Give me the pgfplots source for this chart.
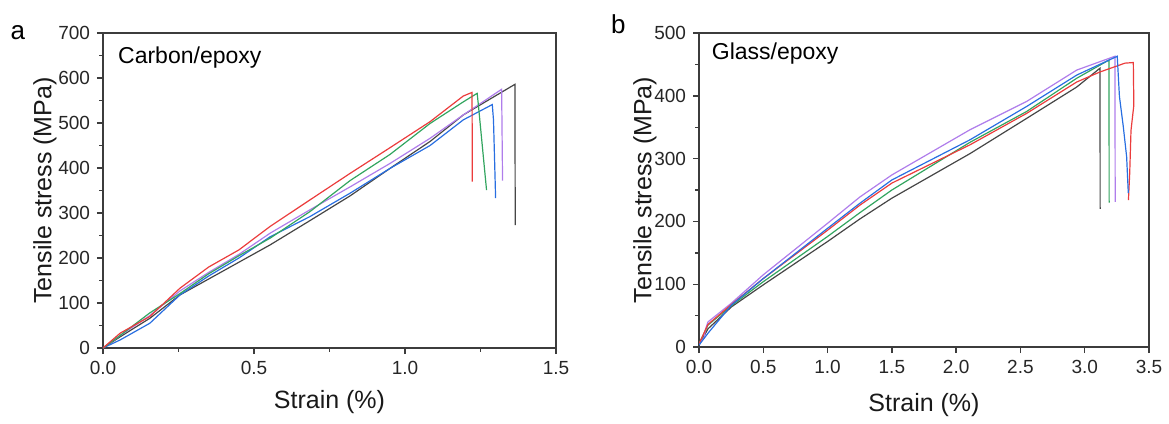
\documentclass[border=0pt]{standalone}
\usepackage{fontspec}
\setmainfont{Liberation Sans}
\usepackage{pgfplots}
\pgfplotsset{compat=1.18}
\definecolor{cred}{RGB}{235,60,60}
\definecolor{cgreen}{RGB}{50,165,95}
\definecolor{cblue}{RGB}{40,110,225}
\definecolor{cpurple}{RGB}{175,125,235}
\definecolor{cblack}{RGB}{70,70,70}
\definecolor{axc}{RGB}{60,60,60}
\pgfplotsset{mystyle/.style={
  scale only axis, enlargelimits=false, clip mode=individual,
  axis line style={axc, line width=0.8bp},
  tick style={axc, line width=0.7bp},
  tick align=outside, xtick pos=bottom, ytick pos=left,
  major tick length=3bp, minor tick length=1.8bp,
  ticklabel style={font=\fontsize{9.5bp}{11bp}\selectfont, text=black!85},
  label style={font=\fontsize{12.5bp}{14bp}\selectfont, text=black!90},
  /pgf/number format/assume math mode=true,
  xticklabel style={/pgf/number format/.cd, fixed, fixed zerofill, precision=1},
  yticklabel style={/pgf/number format/.cd, fixed, precision=0},
  every axis plot/.append style={line width=0.6bp},
  xlabel={Strain (\%)}, ylabel={Tensile stress (MPa)},
}}
\begin{document}
\begin{tikzpicture}
\path (-51.5bp,-35.5bp) rectangle (533bp,174bp);
% ---------- a: Carbon/epoxy ----------
\begin{axis}[mystyle, at={(0,0)}, anchor=south west,
  width=226.5bp, height=157.5bp,
  xmin=0, xmax=1.5, ymin=0, ymax=700,
  xtick={0,0.5,1,1.5}, minor x tick num=1,
  ytick={0,100,...,700}, minor y tick num=1,
  xlabel style={at={(axis description cs:0.5,-0.171)}, anchor=center},
  ylabel style={at={(axis description cs:-0.128,0.5)}, anchor=center},
]
\addplot[cblack] coordinates {(0,0) (0.057,25) (0.155,66) (0.255,118) (0.4,172) (0.553,229) (0.685,283) (0.818,338) (0.950,399) (1.083,459) (1.193,518) (1.364,586) (1.365,273)};
\addplot[cpurple] coordinates {(0,0) (0.057,28) (0.155,72) (0.255,127) (0.35,168) (0.45,208) (0.553,255) (0.685,307) (0.818,358) (0.950,410) (1.083,466) (1.193,518) (1.320,575) (1.323,372)};
\addplot[cblue] coordinates {(0,0) (0.057,18) (0.155,55) (0.255,118) (0.35,160) (0.45,200) (0.553,247) (0.685,292) (0.818,344) (0.950,399) (1.083,450) (1.193,507) (1.289,541) (1.293,507) (1.298,384) (1.300,333)};
\addplot[cgreen] coordinates {(0,0) (0.057,28) (0.155,78) (0.255,121) (0.35,165) (0.45,205) (0.553,244) (0.685,303) (0.818,372) (0.950,430) (1.083,499) (1.193,547) (1.239,566) (1.243,540) (1.270,351)};
\addplot[cred] coordinates {(0,0) (0.057,33) (0.155,70) (0.255,133) (0.35,180) (0.45,218) (0.553,270) (0.685,329) (0.818,388) (0.950,445) (1.083,503) (1.193,560) (1.222,568) (1.223,370)};
\node[anchor=base west, font=\fontsize{11.5bp}{13bp}\selectfont] at (axis description cs:0.018,0.902) {Carbon/epoxy};
\node[anchor=base, font=\fontsize{13bp}{15bp}\selectfont] at (axis description cs:-0.188,0.981) {a};
\end{axis}
% ---------- b: Glass/epoxy ----------
\begin{axis}[mystyle, at={(298bp,0.5bp)}, anchor=south west,
  width=225bp, height=157bp,
  xmin=0, xmax=3.5, ymin=0, ymax=500,
  xtick={0,0.5,...,3.5},
  ytick={0,100,...,500}, minor y tick num=1,
  xlabel style={at={(axis description cs:0.5,-0.185)}, anchor=center},
  ylabel style={at={(axis description cs:-0.12,0.5)}, anchor=center},
]
\addplot[cblack] coordinates {(0,3) (0.07,29) (0.253,64) (0.5,99) (1.0,168) (1.252,204) (1.5,237) (2.108,308) (2.548,364) (2.938,414) (3.119,444) (3.120,220)};
\addplot[cgreen] coordinates {(0,5) (0.07,35) (0.253,66) (0.5,104) (1.0,176) (1.252,214) (1.5,250) (2.108,326) (2.548,375) (2.938,428) (3.189,457) (3.190,230)};
\addplot[cpurple] coordinates {(0,5) (0.04,15) (0.05,28) (0.07,40) (0.253,70) (0.5,115) (1.0,197) (1.252,239) (1.5,274) (2.108,346) (2.548,391) (2.938,441) (3.235,463) (3.237,231)};
\addplot[cred] coordinates {(0,5) (0.07,36) (0.253,68) (0.5,109) (1.0,186) (1.252,226) (1.5,261) (2.108,322) (2.548,372) (2.938,422) (3.119,438) (3.313,452) (3.378,453) (3.382,385) (3.36,345) (3.35,277) (3.34,234)};
\addplot[cblue] coordinates {(0,3) (0.07,22) (0.253,67) (0.5,109) (1.0,189) (1.252,229) (1.5,266) (2.108,330) (2.548,383) (2.938,433) (3.253,463) (3.27,399) (3.30,351) (3.326,303) (3.339,245)};
\node[anchor=base west, font=\fontsize{11.5bp}{13bp}\selectfont] at (axis description cs:0.013,0.917) {Glass/epoxy};
\node[anchor=base, font=\fontsize{13bp}{15bp}\selectfont] at (axis description cs:-0.179,1.0) {b};
\end{axis}
\end{tikzpicture}
\end{document}
